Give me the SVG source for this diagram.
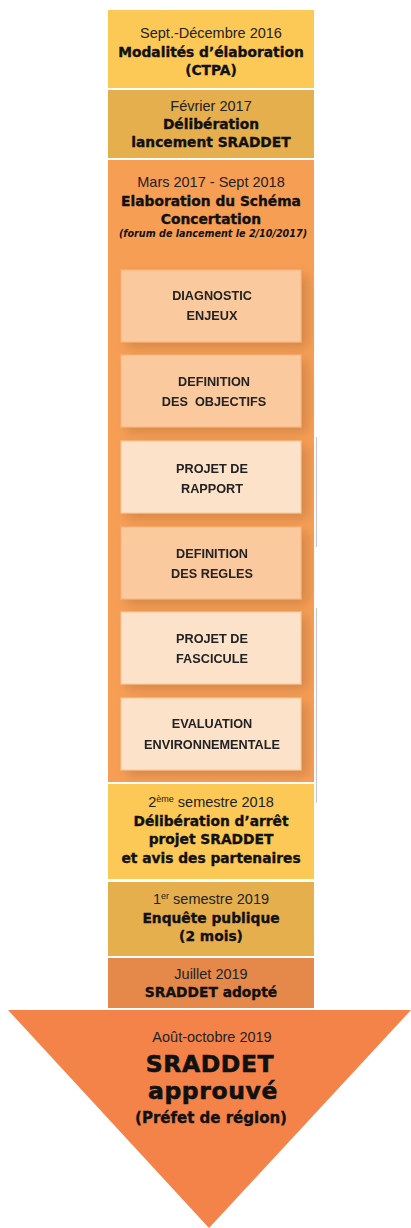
<svg xmlns="http://www.w3.org/2000/svg" width="411" height="1228" viewBox="0 0 411 1228">
<defs>
<filter id="sh" x="-20%" y="-20%" width="150%" height="150%">
<feGaussianBlur in="SourceAlpha" stdDeviation="6"/>
<feOffset dx="6" dy="5" result="b"/>
<feComponentTransfer><feFuncA type="linear" slope="0.15"/></feComponentTransfer>
<feMerge><feMergeNode/><feMergeNode in="SourceGraphic"/></feMerge>
</filter>
</defs>
<style>
text{font-family:"Liberation Sans",Arial,sans-serif;text-anchor:middle;fill:#111}
.d{font-size:14.5px;fill:#222}
.b{font-family:"DejaVu Sans","Liberation Sans",sans-serif;font-size:13.8px;font-weight:bold;stroke:#111;stroke-width:0.35}
.s{font-size:12.7px;font-weight:bold;fill:#222}
.f{font-family:"DejaVu Sans","Liberation Sans",sans-serif;font-size:9.6px;font-weight:bold;font-style:italic}
.big{font-family:"DejaVu Sans","Liberation Sans",sans-serif;font-size:23.5px;letter-spacing:0.6px;font-weight:bold;stroke:#111;stroke-width:0.6}
.i1{fill:#FAC99D;stroke:#F9B47E;stroke-width:1}
.i2{fill:#FDE2CA;stroke:#F9C79A;stroke-width:1}
.edge{stroke:#C8C8C8;stroke-width:1.2;fill:none}
</style>
<rect width="411" height="1228" fill="#fff"/>
<g id="n1">
<rect x="108" y="10" width="206" height="78" fill="#FDC956"/>
<text class="d" x="211" y="38">Sept.-Décembre 2016</text>
<text class="b" x="211" y="57">Modalités d’élaboration</text>
<text class="b" x="211" y="75">(CTPA)</text>
</g>
<g id="n2">
<rect x="108" y="90" width="206" height="68" fill="#E5AF4D"/>
<text class="d" x="211" y="111">Février 2017</text>
<text class="b" x="211" y="129">Délibération</text>
<text class="b" x="211" y="147">lancement SRADDET</text>
</g>
<g id="n3">
<rect x="108" y="160" width="206" height="622" fill="#F79E55"/>
<text class="d" x="211" y="187">Mars 2017 - Sept 2018</text>
<text class="b" x="211" y="206">Elaboration du Schéma</text>
<text class="b" x="211" y="224">Concertation</text>
<text class="f" x="213" y="237">(forum de lancement le 2/10/2017)</text>
</g>
<g id="i1" filter="url(#sh)">
<rect class="i1" x="121" y="270" width="180" height="72"/>
<text class="s" x="212" y="300">DIAGNOSTIC</text>
<text class="s" x="212" y="320">ENJEUX</text>
</g>
<g id="i2" filter="url(#sh)">
<rect class="i1" x="121" y="355" width="180" height="72"/>
<text class="s" x="214" y="386">DEFINITION</text>
<text class="s" x="214" y="406" xml:space="preserve">DES  OBJECTIFS</text>
</g>
<g id="i3" filter="url(#sh)">
<rect class="i2" x="121" y="441" width="180" height="72"/>
<text class="s" x="212" y="473">PROJET DE</text>
<text class="s" x="212" y="493">RAPPORT</text>
</g>
<g id="i4" filter="url(#sh)">
<rect class="i1" x="121" y="527" width="180" height="72"/>
<text class="s" x="212" y="558">DEFINITION</text>
<text class="s" x="212" y="578">DES REGLES</text>
</g>
<g id="i5" filter="url(#sh)">
<rect class="i2" x="121" y="612" width="180" height="72"/>
<text class="s" x="212" y="643">PROJET DE</text>
<text class="s" x="212" y="663">FASCICULE</text>
</g>
<g id="i6" filter="url(#sh)">
<rect class="i2" x="121" y="698" width="180" height="72"/>
<text class="s" x="212" y="728">EVALUATION</text>
<text class="s" x="212" y="749">ENVIRONNEMENTALE</text>
</g>
<g id="n4">
<rect x="108" y="784" width="206" height="95" fill="#FDC956"/>
<text class="d" x="211" y="807">2<tspan font-size="9" dy="-5">ème</tspan><tspan dy="5"> semestre 2018</tspan></text>
<text class="b" x="211" y="826">Délibération d’arrêt</text>
<text class="b" x="211" y="844">projet SRADDET</text>
<text class="b" x="211" y="863">et avis des partenaires</text>
</g>
<g id="n5">
<rect x="108" y="882" width="206" height="74" fill="#E5AF4D"/>
<text class="d" x="211" y="904">1<tspan font-size="9" dy="-5">er</tspan><tspan dy="5"> semestre 2019</tspan></text>
<text class="b" x="211" y="923">Enquête publique</text>
<text class="b" x="211" y="941">(2 mois)</text>
</g>
<g id="n6">
<rect x="108" y="958" width="206" height="50" fill="#E5894A"/>
<text class="d" x="211" y="979">Juillet 2019</text>
<text class="b" x="211" y="997">SRADDET adopté</text>
</g>
<g id="n7">
<polygon points="8,1010 411,1010 209,1228" fill="#F4834A"/>
<text class="d" x="212" y="1042">Août-octobre 2019</text>
<text class="big" x="210" y="1072">SRADDET</text>
<text class="big" x="213" y="1099">approuvé</text>
<text class="b" x="211" y="1123" style="font-size:15px">(Préfet de région)</text>
</g>
<g id="connectors">
<line class="edge" x1="316.5" y1="437" x2="316.5" y2="547"/>
<line class="edge" x1="316.5" y1="608" x2="316.5" y2="803"/>
</g>
</svg>
